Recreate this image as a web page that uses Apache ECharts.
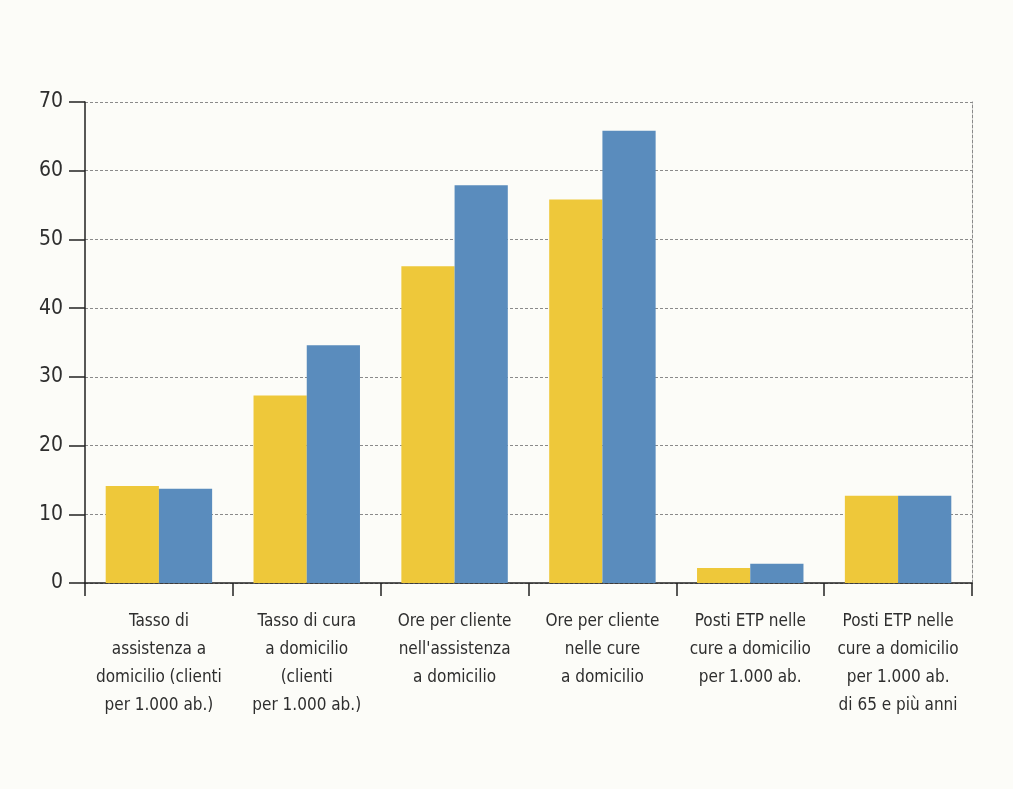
<!DOCTYPE html>
<html>
<head>
<meta charset="utf-8">
<script src="https://cdn.jsdelivr.net/npm/echarts@6/dist/echarts.min.js"></script>
<style>
html,body{margin:0;padding:0;background:#fcfcf8;}
#chart{width:1013px;height:789px;}
</style>
</head>
<body>
<div id="chart"></div>
<script>
const categories = [
  "Tasso di\nassistenza a\ndomicilio (clienti\nper 1.000 ab.)",
  "Tasso di cura\na domicilio\n(clienti\nper 1.000 ab.)",
  "Ore per cliente\nnell'assistenza\na domicilio",
  "Ore per cliente\nnelle cure\na domicilio",
  "Posti ETP nelle\ncure a domicilio\nper 1.000 ab.",
  "Posti ETP nelle\ncure a domicilio\nper 1.000 ab.\ndi 65 e più anni"
];
const seriesYellow = [14.1, 27.3, 46.1, 55.8, 2.2, 12.7];
const seriesBlue = [13.7, 34.6, 57.9, 65.8, 2.8, 12.7];
const yTicks = [0, 10, 20, 30, 40, 50, 60, 70];

const font = "'Liberation Sans Narrow', 'DejaVu Sans Condensed', sans-serif";
const chart = echarts.init(document.getElementById('chart'));
chart.setOption({
  backgroundColor: '#fcfcf8',
  animation: false,
  grid: { left: 85, right: 41, top: 102, bottom: 206 },
  xAxis: {
    type: 'category',
    data: categories,
    axisLine: { lineStyle: { color: '#222', width: 1.5 } },
    axisTick: { show: true, length: 13, lineStyle: { color: '#222', width: 1.5 } },
    axisLabel: {
      interval: 0,
      margin: 25,
      fontFamily: font,
      fontSize: 17,
      lineHeight: 28,
      color: '#2e2e2e'
    }
  },
  yAxis: [{
    type: 'value',
    min: yTicks[0],
    max: yTicks[yTicks.length - 1],
    interval: 10,
    axisLine: { show: true, lineStyle: { color: '#222', width: 1.5 } },
    axisTick: { show: true, length: 16, lineStyle: { color: '#222', width: 1.5 } },
    axisLabel: { margin: 22, fontFamily: font, fontSize: 21, color: '#2e2e2e' },
    splitLine: { show: true, lineStyle: { color: '#8a8a8a', width: 1, type: [3, 2] } }
  }, {
    type: 'value',
    position: 'right',
    min: yTicks[0],
    max: yTicks[yTicks.length - 1],
    interval: 10,
    axisLine: { show: true, lineStyle: { color: '#8a8a8a', width: 1, type: [3, 2] } },
    axisTick: { show: false },
    axisLabel: { show: false },
    splitLine: { show: false }
  }],
  series: [{
    type: 'bar',
    data: seriesYellow,
    itemStyle: { color: '#eec83a' },
    barGap: '0%',
    barCategoryGap: '28%'
  }, {
    type: 'bar',
    data: seriesBlue,
    itemStyle: { color: '#5a8cbd' },
    barGap: '0%',
    barCategoryGap: '28%'
  }]
});
</script>
</body>
</html>
